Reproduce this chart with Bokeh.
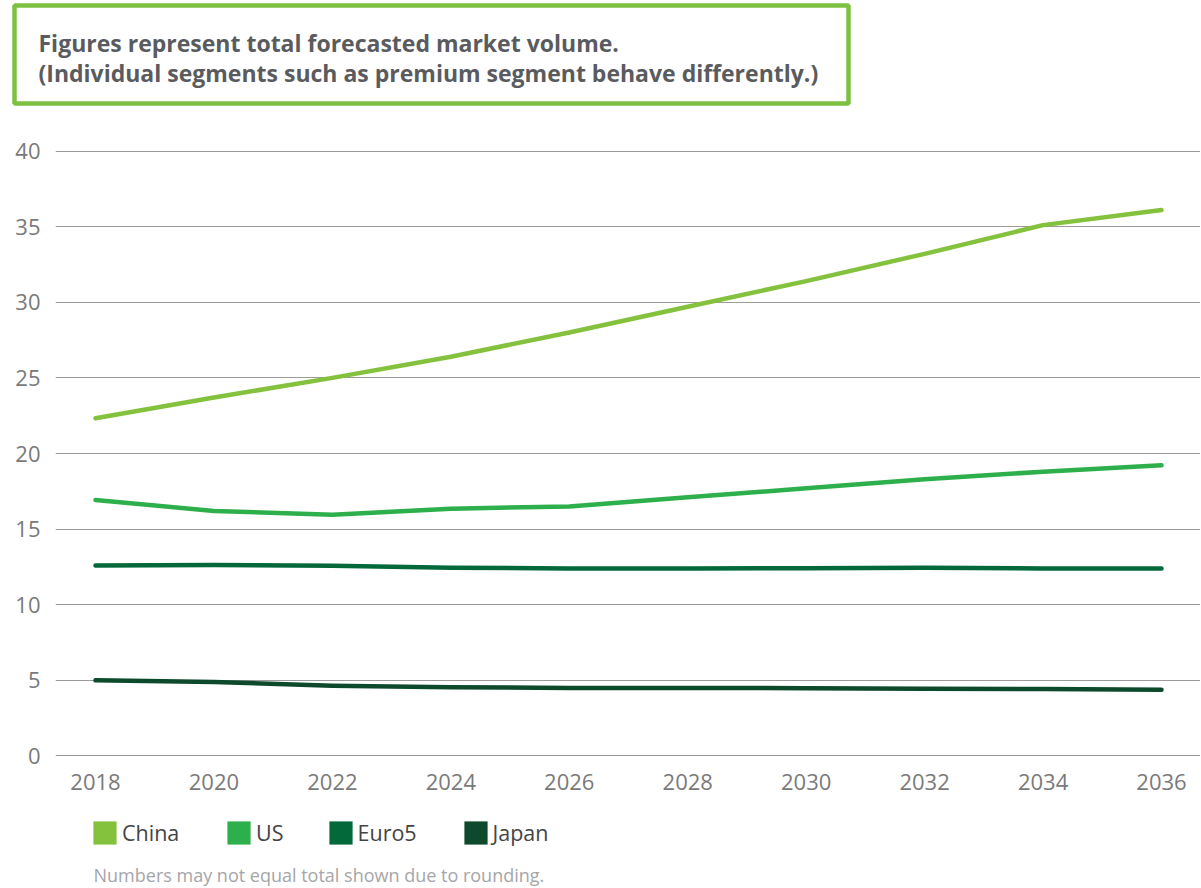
from bokeh.plotting import figure
from bokeh.layouts import column
from bokeh.models import Range1d, FixedTicker, Label, Legend, LegendItem, BoxAnnotation
from bokeh.embed import file_html
from bokeh.resources import INLINE

years = [2018, 2020, 2022, 2024, 2026, 2028, 2030, 2032, 2034, 2036]
china = [22.33, 23.7, 25.0, 26.4, 28.0, 29.7, 31.4, 33.2, 35.1, 36.1]
us = [16.93, 16.2, 15.95, 16.35, 16.5, 17.1, 17.7, 18.3, 18.8, 19.22]
euro5 = [12.6, 12.62, 12.58, 12.45, 12.4, 12.4, 12.42, 12.45, 12.4, 12.4]
japan = [5.0, 4.9, 4.65, 4.55, 4.5, 4.5, 4.48, 4.45, 4.43, 4.38]
series_names = ["China", "US", "Euro5", "Japan"]
series_colors = ["#84c13d", "#2db04b", "#04693a", "#0c4a2b"]
y_ticks = [0, 5, 10, 15, 20, 25, 30, 35, 40]
title_lines = ["Figures represent total forecasted market volume.",
               "(Individual segments such as premium segment behave differently.)"]
note_text = "Numbers may not equal total shown due to rounding."

FONT = "Open Sans"
W = 1200

def blank(h):
    f = figure(width=W, height=h, output_backend="svg", toolbar_location=None,
               x_range=Range1d(0, W), y_range=Range1d(0, h),
               x_axis_location=None, y_axis_location=None,
               min_border=0, min_border_left=0, min_border_right=0,
               min_border_top=0, min_border_bottom=0, frame_align=False)
    f.grid.visible = False
    f.outline_line_color = None
    return f

# ---- top: note box ----
TH = 110
top = blank(TH)
top.add_layout(BoxAnnotation(left=14, right=848, bottom=TH - 103, top=TH - 5,
                             fill_alpha=0, line_color="#7dc142", line_alpha=1.0,
                             line_width=4.5))
for txt, base in zip(title_lines, [42, 72]):
    top.add_layout(Label(x=38, y=TH - base, text=txt, text_align="left",
                         text_baseline="alphabetic", text_font=FONT,
                         text_font_style="bold", text_font_size="23px",
                         text_color="#5a5b5e"))

# ---- main chart ----
MH = 695
p = figure(width=W, height=MH, output_backend="svg", toolbar_location=None,
           x_range=Range1d(2017.3246, 2036.6586), y_range=Range1d(-0.1, 40.1),
           min_border_left=55, min_border_right=0, min_border_top=39, min_border_bottom=48,
           frame_align=False)
p.outline_line_color = None
p.yaxis.ticker = FixedTicker(ticks=y_ticks)
p.xaxis.ticker = FixedTicker(ticks=years)
for ax in (p.xaxis[0], p.yaxis[0]):
    ax.axis_line_color = None
    ax.major_tick_line_color = None
    ax.minor_tick_line_color = None
    ax.major_label_text_font = FONT
    ax.major_label_text_font_size = "22px"
    ax.major_label_text_color = "#7a7a7a"
p.yaxis.major_label_standoff = 9
p.xaxis.major_label_standoff = 10
p.xgrid.grid_line_color = None
p.ygrid.grid_line_color = "#9b9b9b"
p.ygrid.grid_line_width = 1

for name, vals, col in zip(series_names, [china, us, euro5, japan], series_colors):
    p.line(years, vals, line_color=col, line_width=4.5, line_cap="round", line_join="round")

# ---- bottom: legend + note ----
BH = 82
bot = blank(BH)
legend_x = [90, 224, 325.5, 460.5]
for name, col, lx in zip(series_names, series_colors, legend_x):
    q = bot.quad(left=[0], right=[0], bottom=[0], top=[0], fill_color=col, line_color=None)
    lg = Legend(items=[LegendItem(label=name, renderers=[q])], location=(lx, 40),
                glyph_width=29, glyph_height=29, label_standoff=3,
                padding=0, margin=0, border_line_color=None, background_fill_alpha=0,
                label_text_font=FONT, label_text_font_size="21.5px",
                label_text_color="#444444")
    bot.add_layout(lg)
bot.add_layout(Label(x=93, y=BH - (874 - 805), text=note_text, text_align="left",
                     text_baseline="alphabetic", text_font=FONT, text_font_size="18px",
                     text_color="#a5a6a8"))

layout = column(top, p, bot, spacing=0)
open("out.html", "w").write(file_html(layout, INLINE))
